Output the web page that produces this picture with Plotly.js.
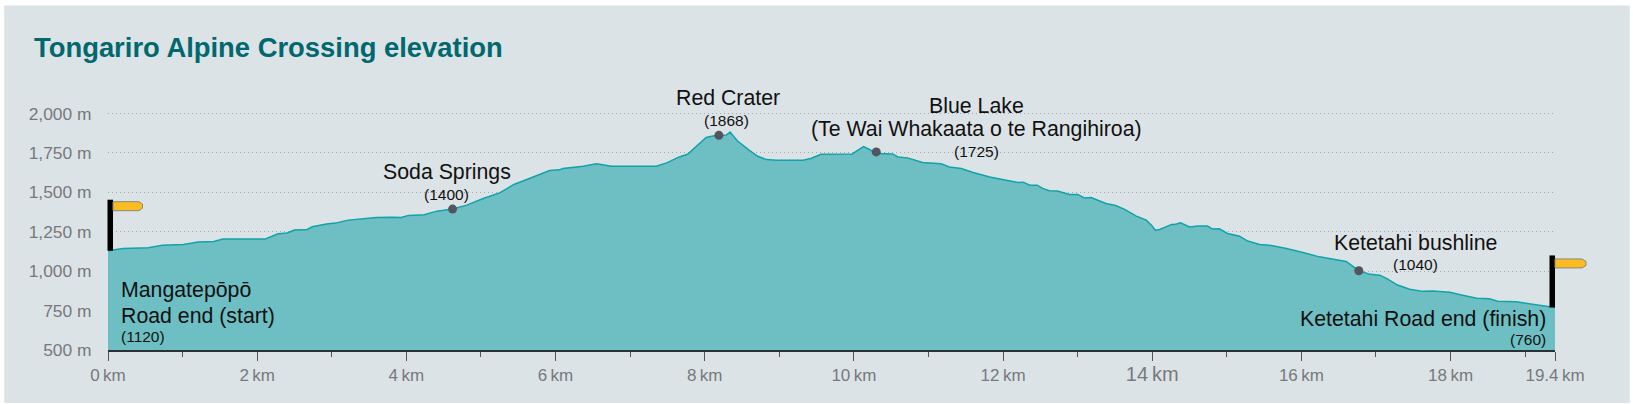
<!DOCTYPE html>
<html><head><meta charset="utf-8">
<script src="https://cdn.plot.ly/plotly-3.0.1.min.js"></script>
<style>html,body{margin:0;padding:0;background:#fff}#c{width:1633px;height:404px}</style>
</head><body><div id="c"></div>
<script>
const distanceKm = [0,0.2,0.54,0.73,1.01,1.21,1.42,1.54,2.11,2.28,2.4,2.5,2.67,2.74,2.93,3.05,3.22,3.6,3.81,3.93,4.03,4.24,4.41,4.62,4.81,5.03,5.25,5.45,5.65,5.92,6.05,6.1,6.37,6.55,6.75,7.35,7.49,7.66,7.77,7.86,8.02,8.11,8.19,8.29,8.34,8.44,8.6,8.71,8.83,8.96,9.32,9.43,9.56,9.98,10.05,10.13,10.21,10.3,10.52,10.59,10.72,10.92,11.17,11.28,11.44,11.6,11.82,12.06,12.2,12.27,12.36,12.46,12.53,12.62,12.73,12.89,13.0,13.09,13.18,13.38,13.51,13.63,13.78,13.92,13.99,14.04,14.1,14.26,14.3,14.38,14.5,14.61,14.74,14.81,14.9,15.01,15.13,15.17,15.28,15.44,15.57,15.8,16.02,16.24,16.6,16.69,16.77,16.92,17.05,17.14,17.29,17.45,17.63,17.76,17.99,18.13,18.35,18.52,18.63,18.88,19.1,19.4];
const elevationM = [1130,1144,1149,1165,1170,1185,1189,1204,1205,1237,1242,1261,1265,1282,1299,1305,1324,1341,1343,1341,1354,1358,1381,1394,1419,1461,1497,1552,1588,1639,1643,1651,1666,1681,1666,1666,1687,1725,1742,1778,1848,1858,1862,1864,1883,1826,1767,1729,1708,1704,1704,1717,1742,1744,1767,1791,1772,1746,1744,1725,1719,1689,1681,1661,1651,1626,1598,1573,1563,1565,1546,1546,1525,1510,1508,1487,1487,1465,1467,1430,1417,1392,1351,1324,1292,1260,1265,1297,1297,1307,1281,1286,1286,1267,1269,1239,1224,1222,1191,1170,1165,1144,1119,1091,1062,1032,1003,980,975,954,912,885,872,874,866,851,828,825,810,806,790,770];
const placeKm = [4.62,8.19,10.3,16.77];
const placeM = [1394,1862,1757,1003];
const xTickVals = [0,2,4,6,8,10,12,14,16,18,19.4];
const xTickText = ['0\u2009km','2\u2009km','4\u2009km','6\u2009km','8\u2009km','10\u2009km','12\u2009km','<span style="font-size:20px">14\u2009km</span>','16\u2009km','18\u2009km','19.4\u2009km'];
const xMinorVals = [1,3,5,7,9,11,13,15,17,19];
const yTickVals = [500,750,1000,1250,1500,1750,2000];
const yTickText = ['500 m','750 m','1,000 m','1,250 m','1,500 m','1,750 m','2,000 m'];
const titleText = 'Tongariro Alpine Crossing elevation';

const yTop=2010;
const L=108.3,R=1555.3,B=350,T=B-(yTop-500)*0.1578;
const ax=p=>(p-L)/(R-L), ay=p=>(B-p)/(B-T);
const FONT='"Liberation Sans", Arial, sans-serif';
const note=(text,x,y,size,anchor)=>({text,xref:'paper',yref:'paper',x:ax(x),y:ay(y),xanchor:anchor||'center',yanchor:'middle',showarrow:false,font:{family:FONT,size,color:'#111'}});
const BIG=21.3, SMALL=15.5;
const annotations=[
 {text:titleText,xref:'paper',yref:'paper',x:ax(32.5),y:ay(47.5),xanchor:'left',yanchor:'middle',showarrow:false,font:{family:FONT,size:27.4,color:'#00686e',weight:700}},
 note('Soda Springs',447,172,BIG), note('(1400)',447,194,SMALL),
 note('Red Crater',728,98,BIG), note('(1868)',727,120,SMALL),
 note('Blue Lake',977,105.5,BIG), note('(Te Wai Whakaata o te Rangihiroa)',977,129,BIG), note('(1725)',977,151,SMALL),
 note('Ketetahi bushline',1416,243,BIG), note('(1040)',1416,264,SMALL),
 note('Ketetahi Road end (finish)',1548,319,BIG,'right'), note('(760)',1548,339,SMALL,'right'),
 note('Mangatepōpō',119,290,BIG,'left'), note('Road end (start)',119,315.5,BIG,'left'), note('(1120)',119,336,SMALL,'left')
];
const px=(km,m,path,fill,line)=>({type:'path',xref:'paper',yref:'paper',xsizemode:'pixel',ysizemode:'pixel',xanchor:km/19.4,yanchor:(m-500)/(yTop-500),path,fillcolor:fill,line:{color:line,width:line==='rgba(0,0,0,0)'?0:1},layer:'above'});
const lastM=elevationM[elevationM.length-1];
const shapes=[
 {type:'rect',xref:'paper',yref:'paper',x0:ax(4.5),x1:ax(1630),y0:ay(403),y1:ay(5),fillcolor:'#dce3e6',line:{width:0},layer:'below'},
 px(0,elevationM[0],'M -0.5 0 L 5 0 L 5 51 L -0.5 51 Z','#000','rgba(0,0,0,0)'),
 px(0,elevationM[0],'M 5 40 L 31 40 L 34.5 42.5 L 34.5 46.5 L 31 49 L 5 49 Z','#fbbc22','#8a8a7a'),
 px(19.4,lastM,'M -5.5 0 L 0 0 L 0 52 L -5.5 52 Z','#000','rgba(0,0,0,0)'),
 px(19.4,lastM,'M 0 39.5 L 27 39.5 L 31 42 L 31 46 L 27 48.5 L 0 48.5 Z','#fbbc22','#8a8a7a')
];
const data=[
 {type:'scatter',mode:'lines',x:distanceKm,y:elevationM,fill:'tozeroy',fillcolor:'rgba(96,186,191,0.9)',line:{color:'#12a2a8',width:1.5,shape:'linear'},hoverinfo:'skip'},
 {type:'scatter',mode:'markers',x:placeKm,y:placeM,marker:{color:'#50555f',size:9},hoverinfo:'skip'}
];
const layout={
 width:1633,height:404,showlegend:false,
 paper_bgcolor:'#fff',plot_bgcolor:'rgba(0,0,0,0)',
 margin:{l:L,r:1633-R,t:T,b:404-B,pad:0},
 xaxis:{range:[0,19.4],tickmode:'array',tickvals:xTickVals,ticktext:xTickText,ticks:'outside',ticklen:9,tickwidth:1,tickcolor:'#555',
   showgrid:false,zeroline:false,showline:true,linecolor:'#2a3236',linewidth:2,tickangle:0,
   tickfont:{family:FONT,size:17,color:'#77797c'},
   minor:{tickmode:'array',tickvals:xMinorVals,ticks:'outside',ticklen:5,tickwidth:1,tickcolor:'#555',showgrid:false}},
 yaxis:{range:[500,yTop],tickmode:'array',tickvals:yTickVals,ticktext:yTickText,ticks:'outside',ticklen:12,tickcolor:'rgba(0,0,0,0)',
   showgrid:true,gridcolor:'#a3a8aa',griddash:'1px,3px',gridwidth:1,zeroline:false,showline:false,
   tickfont:{family:FONT,size:17.4,color:'#77797c'}},
 annotations,shapes
};
Plotly.newPlot('c',data,layout,{staticPlot:true,displayModeBar:false});
</script></body></html>
